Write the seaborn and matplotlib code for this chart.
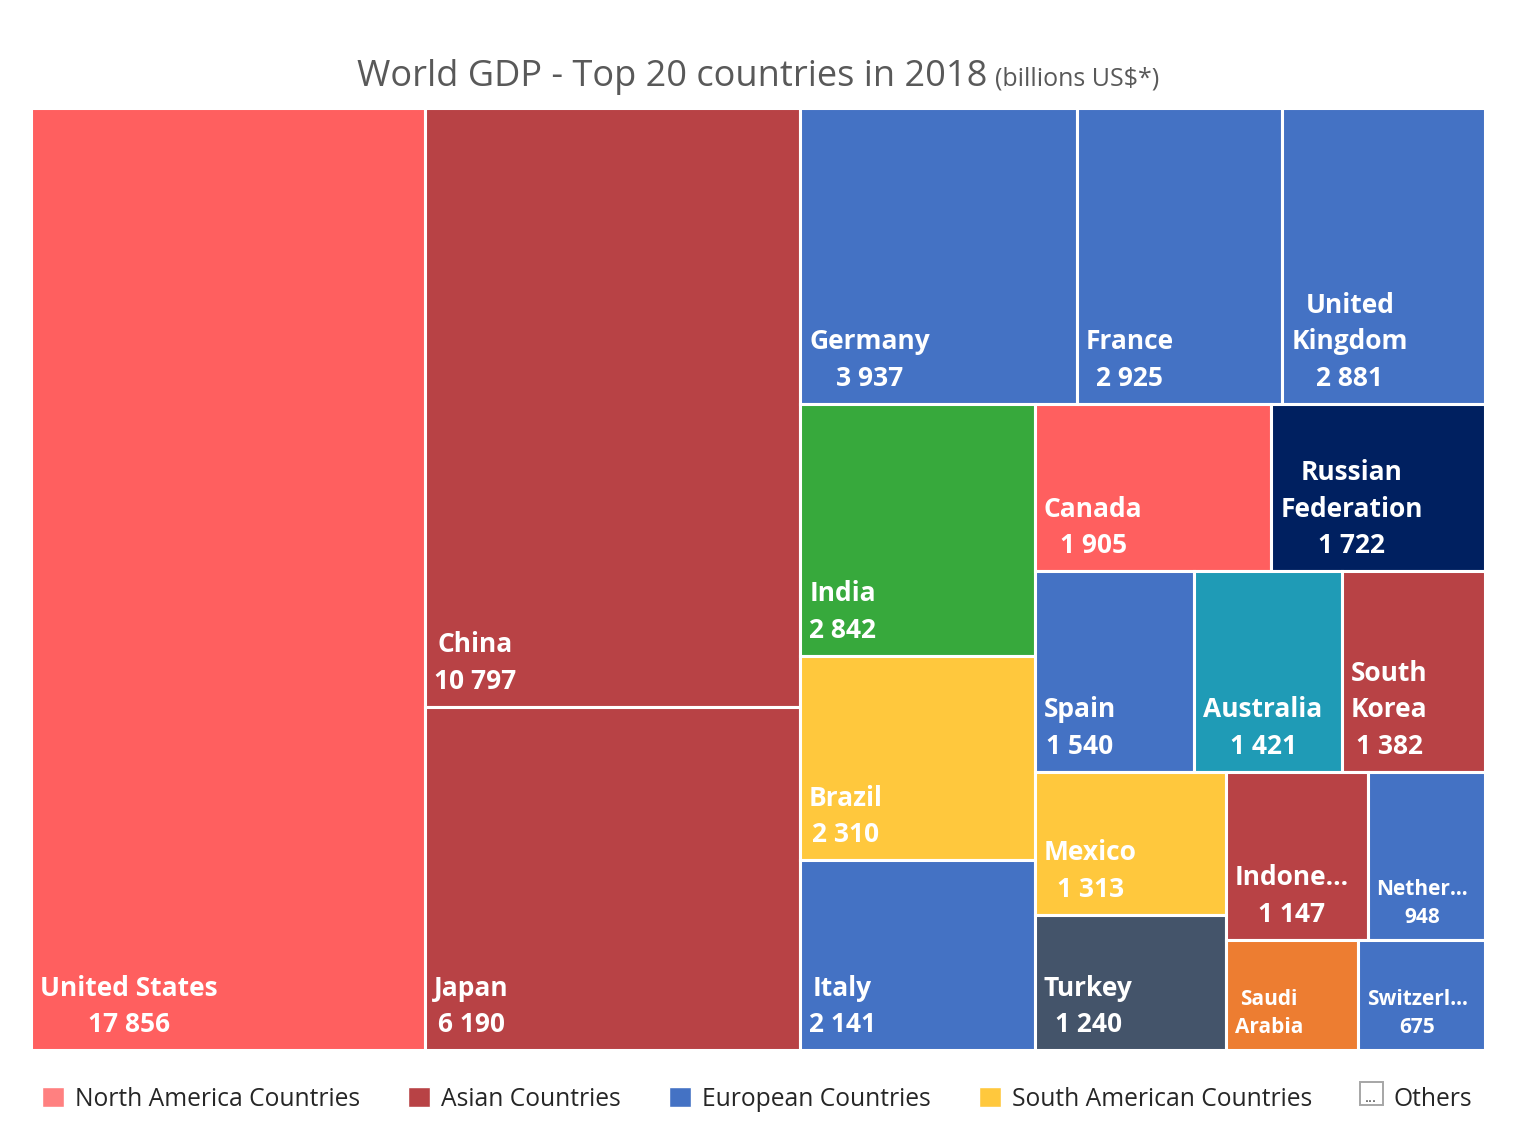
import matplotlib.pyplot as plt
import seaborn as sns
from matplotlib.patches import Rectangle, Patch
from matplotlib.legend_handler import HandlerBase

# GDP 2018, billions US$
countries = ["United States", "China", "Japan", "Germany", "France", "United Kingdom",
             "India", "Brazil", "Italy", "Canada", "Russian Federation", "Spain",
             "Australia", "South Korea", "Mexico", "Turkey", "Indonesia", "Netherlands",
             "Saudi Arabia", "Switzerland"]
gdp = [17856, 10797, 6190, 3937, 2925, 2881, 2842, 2310, 2141, 1905, 1722, 1540,
       1421, 1382, 1313, 1240, 1147, 948, 700, 675]
regions = ["North America", "Asia", "Asia", "Europe", "Europe", "Europe",
           "Other", "South America", "Europe", "North America", "Other", "Europe",
           "Other", "Asia", "South America", "Other", "Asia", "Europe",
           "Other", "Europe"]
# names as Excel printed them inside the tiles
shown_names = ["United States", "China", "Japan", "Germany", "France", "United\nKingdom",
               "India", "Brazil", "Italy", "Canada", "Russian\nFederation", "Spain",
               "Australia", "South\nKorea", "Mexico", "Turkey", "Indone\u2026", "Nether\u2026",
               "Saudi\nArabia", "Switzerl\u2026"]
show_value = [True] * 18 + [False, True]

region_colors = {"North America": "#FF5F5F", "Asia": "#B84245",
                 "Europe": "#4472C4", "South America": "#FFC83D"}
other_colors = {"India": "#37A93C", "Russian Federation": "#002060",
                "Australia": "#1F9BB6", "Turkey": "#44546A", "Saudi Arabia": "#ED7D31"}
legend_labels = ["North America Countries", "Asian Countries", "European Countries",
                 "South American Countries", "Others"]
legend_colors = ["#FF8080", "#B84245", "#4472C4", "#FFC83D"]

# number of tiles in each strip of the squarified layout (Excel's grouping)
strips = [1, 2, 3, 3, 2, 3, 2, 2, 1, 1]


def treemap(values, strips, w, h):
    scale = w * h / sum(values)
    x, y = 0.0, 0.0
    rects = []
    i = 0
    for n in strips:
        group = values[i:i + n]
        area = sum(group) * scale
        if w >= h:
            sw = area / h
            yy = y
            for v in group:
                hh = v * scale / sw
                rects.append((x, yy, sw, hh))
                yy += hh
            x += sw
            w -= sw
        else:
            sh = area / w
            xx = x
            for v in group:
                ww = v * scale / sh
                rects.append((xx, y, ww, sh))
                xx += ww
            y += sh
            h -= sh
        i += n
    return rects


class OthersHandler(HandlerBase):
    def create_artists(self, legend, orig_handle, xd, yd, width, height, fontsize, trans):
        s = min(width, height) * 1.1
        box = Rectangle((xd + (width - s) / 2, yd + (height - s) / 2), s, s,
                        facecolor="white", edgecolor="#A6A6A6", lw=1.4, transform=trans)
        dots = plt.Text(xd + width / 2, yd + (height - s) / 2 - 1, "...", ha="center",
                        va="bottom", fontsize=fontsize * 0.6, color="#404040",
                        transform=trans)
        return [box, dots]


sns.set_theme(style="white")
plt.rcParams["font.family"] = ["Open Sans", "DejaVu Sans"]

fig = plt.figure(figsize=(15.14, 11.30), dpi=100)
ax = fig.add_axes([31 / 1514, 1 - 1050 / 1130, 1454 / 1514, 942 / 1130])
W, H = 1454, 942
ax.set_xlim(0, W)
ax.set_ylim(H, 0)
ax.axis("off")

rects = treemap(gdp, strips, W, H)
for name, shown, val, reg, show, (x, y, w, h) in zip(countries, shown_names, gdp, regions,
                                                     show_value, rects):
    color = region_colors.get(reg, other_colors.get(name))
    ax.add_patch(Rectangle((x, y), w, h, facecolor=color, edgecolor="white", lw=2.2))
    label = shown
    if show:
        label += "\n" + f"{val:,}".replace(",", " ")
    fs = 19 if w > 135 else 15
    ax.text(x + 9, y + h - 12, label, ha="left", va="bottom", multialignment="center",
            color="white", fontsize=fs, fontweight="bold", linespacing=1.45)

# title + subtitle on one line, centred over the plot
t1 = fig.text(0, 1 - 86 / 1130, "World GDP - Top 20 countries in 2018", fontsize=26,
              color="#595959", ha="left", va="baseline")
t2 = fig.text(0, 1 - 86 / 1130, "(billions US$*)", fontsize=18,
              color="#595959", ha="left", va="baseline")
fig.canvas.draw()
r = fig.canvas.get_renderer()
w1 = t1.get_window_extent(r).width
w2 = t2.get_window_extent(r).width
gap = 8
start = 758 - (w1 + gap + w2) / 2
t1.set_x(start / 1514)
t2.set_x((start + w1 + gap) / 1514)

handles = [Patch(facecolor=c) for c in legend_colors] + [Patch(facecolor="white")]
fig.legend(handles, legend_labels, loc="center", bbox_to_anchor=(0.5, 1 - 1099 / 1130),
           ncol=5, frameon=False, fontsize=17.7, handlelength=0.9, handleheight=0.9,
           handletextpad=0.45, columnspacing=1.95, labelcolor="#262626",
           handler_map={handles[-1]: OthersHandler()})

fig.savefig("out.png", dpi=100, facecolor="white")
